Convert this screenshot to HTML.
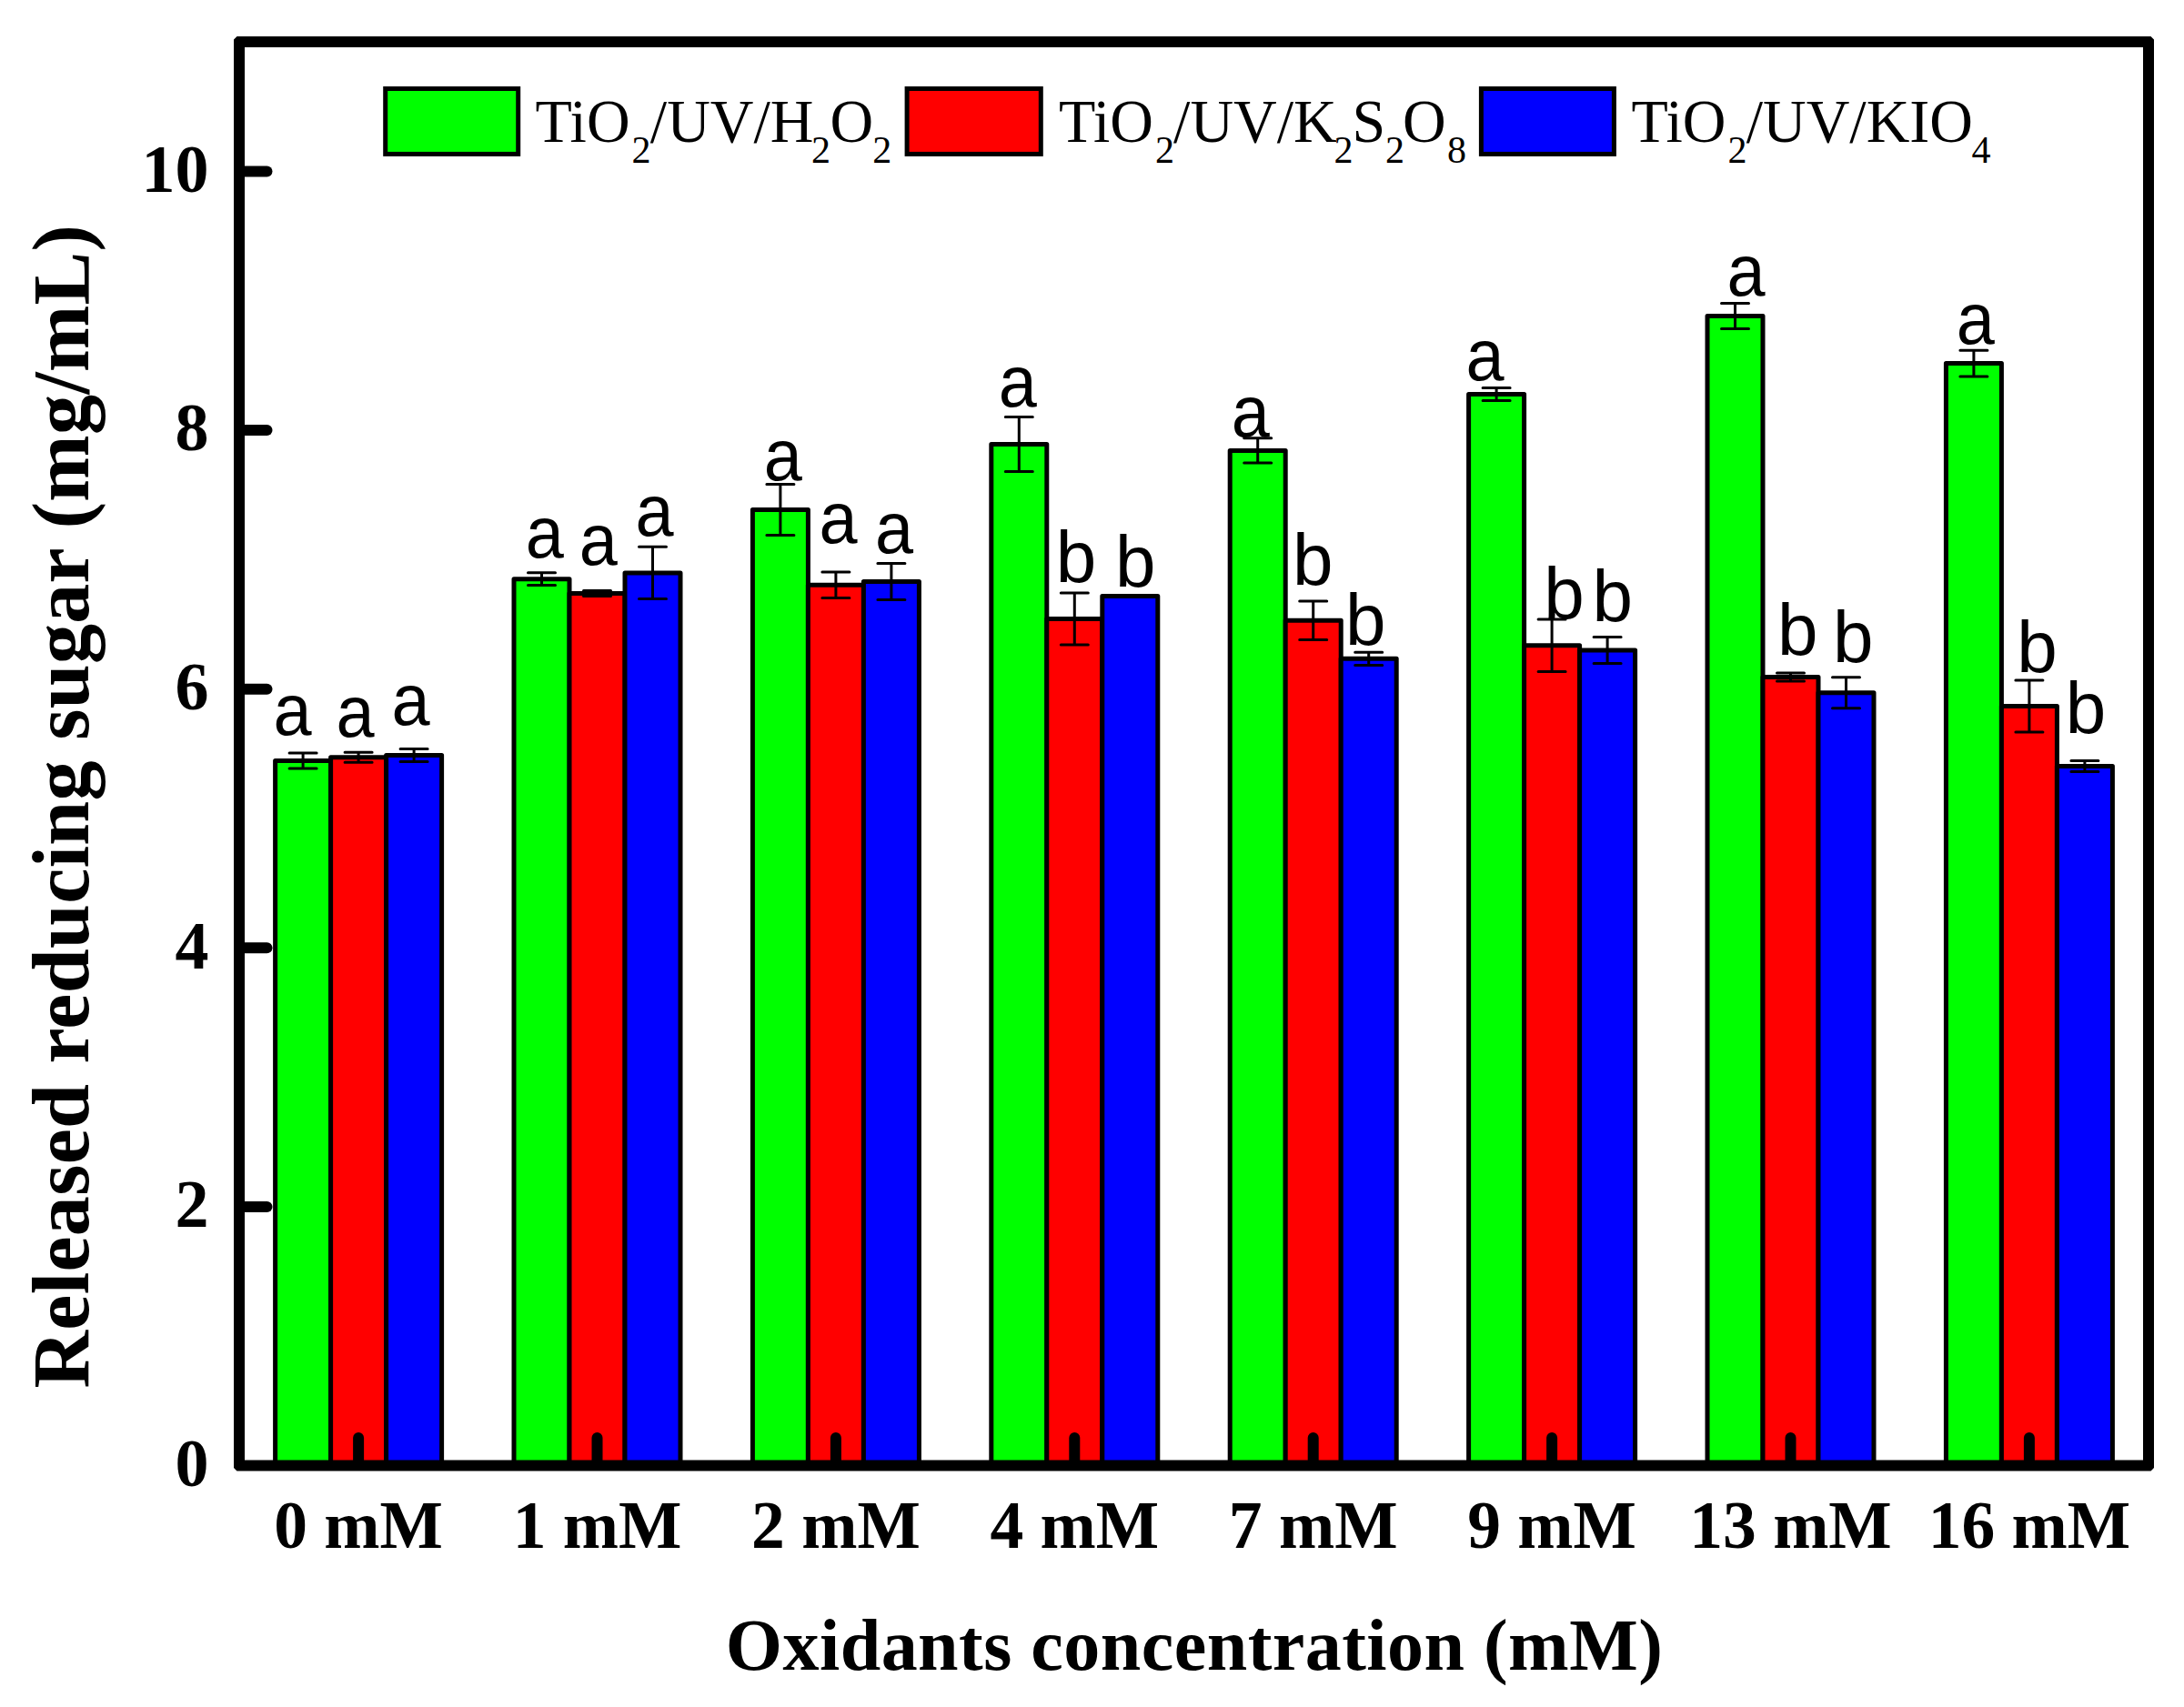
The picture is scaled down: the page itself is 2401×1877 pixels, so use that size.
<!DOCTYPE html>
<html lang="en"><head><meta charset="utf-8"><title>Released reducing sugar vs oxidants concentration</title>
<style>html,body{margin:0;padding:0;background:#fff}body{width:2401px;height:1877px;overflow:hidden}svg{display:block}.sb{font-family:"Liberation Serif","Times New Roman",serif;font-weight:bold;fill:#000}.sr{font-family:"Liberation Serif","Times New Roman",serif;fill:#000}.ss{font-family:"Liberation Sans",Arial,sans-serif;fill:#000;font-size:80px}</style></head><body>
<svg width="2401" height="1877" viewBox="0 0 2401 1877">
<rect x="0" y="0" width="2401" height="1877" fill="#fff"/>
<g stroke="#000" stroke-width="5" stroke-linejoin="round">
<rect x="302.6" y="836.5" width="61.0" height="775.0" fill="#00ff00"/>
<rect x="363.6" y="832.8" width="61.0" height="778.7" fill="#ff0000"/>
<rect x="424.6" y="830.5" width="61.0" height="781.0" fill="#0000ff"/>
<rect x="565.0" y="636.7" width="61.0" height="974.8" fill="#00ff00"/>
<rect x="626.0" y="652.6" width="61.0" height="958.9" fill="#ff0000"/>
<rect x="687.0" y="629.9" width="61.0" height="981.6" fill="#0000ff"/>
<rect x="827.4" y="560.5" width="61.0" height="1051.0" fill="#00ff00"/>
<rect x="888.4" y="643.2" width="61.0" height="968.3" fill="#ff0000"/>
<rect x="949.4" y="639.5" width="61.0" height="972.0" fill="#0000ff"/>
<rect x="1089.8" y="488.6" width="61.0" height="1122.9" fill="#00ff00"/>
<rect x="1150.8" y="680.5" width="61.0" height="931.0" fill="#ff0000"/>
<rect x="1211.8" y="655.4" width="61.0" height="956.1" fill="#0000ff"/>
<rect x="1352.2" y="495.4" width="61.0" height="1116.1" fill="#00ff00"/>
<rect x="1413.2" y="682.3" width="61.0" height="929.2" fill="#ff0000"/>
<rect x="1474.2" y="724.3" width="61.0" height="887.2" fill="#0000ff"/>
<rect x="1614.6" y="433.5" width="61.0" height="1178.0" fill="#00ff00"/>
<rect x="1675.6" y="709.8" width="61.0" height="901.7" fill="#ff0000"/>
<rect x="1736.6" y="715.0" width="61.0" height="896.5" fill="#0000ff"/>
<rect x="1877.0" y="347.6" width="61.0" height="1263.9" fill="#00ff00"/>
<rect x="1938.0" y="744.4" width="61.0" height="867.1" fill="#ff0000"/>
<rect x="1999.0" y="761.8" width="61.0" height="849.7" fill="#0000ff"/>
<rect x="2139.4" y="399.6" width="61.0" height="1211.9" fill="#00ff00"/>
<rect x="2200.4" y="776.5" width="61.0" height="835.0" fill="#ff0000"/>
<rect x="2261.4" y="842.6" width="61.0" height="768.9" fill="#0000ff"/>
</g>
<g stroke="#000" stroke-width="3" stroke-linecap="round" fill="none">
<path d="M333.1 828.0V845.0M318.1 828.0h30M318.1 845.0h30"/>
<path d="M394.1 827.3V838.3M379.1 827.3h30M379.1 838.3h30"/>
<path d="M455.1 823.6V837.4M440.1 823.6h30M440.1 837.4h30"/>
<path d="M595.5 629.8V643.6M580.5 629.8h30M580.5 643.6h30"/>
<path d="M656.5 649.6V655.6M641.5 649.6h30M641.5 655.6h30"/>
<path d="M717.5 601.2V658.6M702.5 601.2h30M702.5 658.6h30"/>
<path d="M857.9 532.6V588.4M842.9 532.6h30M842.9 588.4h30"/>
<path d="M918.9 628.9V657.5M903.9 628.9h30M903.9 657.5h30"/>
<path d="M979.9 619.5V659.5M964.9 619.5h30M964.9 659.5h30"/>
<path d="M1120.3 458.6V518.6M1105.3 458.6h30M1105.3 518.6h30"/>
<path d="M1181.3 651.9V709.1M1166.3 651.9h30M1166.3 709.1h30"/>
<path d="M1242.3 654.4V656.4M1227.3 654.4h30M1227.3 656.4h30"/>
<path d="M1382.7 481.8V509.0M1367.7 481.8h30M1367.7 509.0h30"/>
<path d="M1443.7 661.0V703.6M1428.7 661.0h30M1428.7 703.6h30"/>
<path d="M1504.7 717.2V731.4M1489.7 717.2h30M1489.7 731.4h30"/>
<path d="M1645.1 426.5V440.5M1630.1 426.5h30M1630.1 440.5h30"/>
<path d="M1706.1 681.1V738.5M1691.1 681.1h30M1691.1 738.5h30"/>
<path d="M1767.1 700.6V729.4M1752.1 700.6h30M1752.1 729.4h30"/>
<path d="M1907.5 333.6V361.6M1892.5 333.6h30M1892.5 361.6h30"/>
<path d="M1968.5 739.9V748.9M1953.5 739.9h30M1953.5 748.9h30"/>
<path d="M2029.5 744.8V778.8M2014.5 744.8h30M2014.5 778.8h30"/>
<path d="M2169.9 385.2V414.0M2154.9 385.2h30M2154.9 414.0h30"/>
<path d="M2230.9 747.9V805.1M2215.9 747.9h30M2215.9 805.1h30"/>
<path d="M2291.9 836.6V848.6M2276.9 836.6h30M2276.9 848.6h30"/>
</g>
<path fill="#000" fill-rule="evenodd" d="M260.5 40.0L2364.5 40.0L2368.0 43.5L2368.0 1614.0L2364.5 1617.5L260.5 1617.5L257.0 1614.0L257.0 43.5Z M269.0 52.0V1605.5H2356.0V52.0Z"/>
<g stroke="#000" stroke-width="12" stroke-linecap="round">
<line x1="269.0" y1="1326.9" x2="293.5" y2="1326.9"/>
<line x1="269.0" y1="1042.3" x2="293.5" y2="1042.3"/>
<line x1="269.0" y1="757.7" x2="293.5" y2="757.7"/>
<line x1="269.0" y1="473.1" x2="293.5" y2="473.1"/>
<line x1="269.0" y1="188.5" x2="293.5" y2="188.5"/>
<line x1="394.1" y1="1605.5" x2="394.1" y2="1581.0"/>
<line x1="656.5" y1="1605.5" x2="656.5" y2="1581.0"/>
<line x1="918.9" y1="1605.5" x2="918.9" y2="1581.0"/>
<line x1="1181.3" y1="1605.5" x2="1181.3" y2="1581.0"/>
<line x1="1443.7" y1="1605.5" x2="1443.7" y2="1581.0"/>
<line x1="1706.1" y1="1605.5" x2="1706.1" y2="1581.0"/>
<line x1="1968.5" y1="1605.5" x2="1968.5" y2="1581.0"/>
<line x1="2230.9" y1="1605.5" x2="2230.9" y2="1581.0"/>
</g>
<g class="sb" font-size="74" text-anchor="end">
<text x="229.5" y="1633.8">0</text>
<text x="229.5" y="1349.2">2</text>
<text x="229.5" y="1064.6">4</text>
<text x="229.5" y="780.0">6</text>
<text x="229.5" y="495.4">8</text>
<text x="229.5" y="210.8">10</text>
</g>
<g class="sb" font-size="73.5" text-anchor="middle">
<text x="394.1" y="1701.5">0 mM</text>
<text x="656.5" y="1701.5">1 mM</text>
<text x="918.9" y="1701.5">2 mM</text>
<text x="1181.3" y="1701.5">4 mM</text>
<text x="1443.7" y="1701.5">7 mM</text>
<text x="1706.1" y="1701.5">9 mM</text>
<text x="1968.5" y="1701.5">13 mM</text>
<text x="2230.9" y="1701.5">16 mM</text>
</g>
<text class="sb" font-size="80" x="797.8" y="1836" textLength="1030" lengthAdjust="spacing">Oxidants concentration (mM)</text>
<text class="sb" font-size="88" transform="translate(97.1 1526.5) rotate(-90)" textLength="1279.4" lengthAdjust="spacing">Released reducing sugar (mg/mL)</text>
<g class="ss">
<text transform="translate(300.5 808.0) scale(0.945 1)">a</text>
<text transform="translate(369.6 809.9) scale(0.945 1)">a</text>
<text transform="translate(430.4 797.0) scale(0.945 1)">a</text>
<text transform="translate(577.8 612.8) scale(0.945 1)">a</text>
<text transform="translate(636.8 621.0) scale(0.945 1)">a</text>
<text transform="translate(698.6 588.9) scale(0.945 1)">a</text>
<text transform="translate(839.7 527.7) scale(0.945 1)">a</text>
<text transform="translate(900.6 596.6) scale(0.945 1)">a</text>
<text transform="translate(961.9 607.6) scale(0.945 1)">a</text>
<text transform="translate(1097.8 447.4) scale(0.945 1)">a</text>
<text x="1160.8" y="640.0">b</text>
<text x="1226.1" y="645.1">b</text>
<text transform="translate(1353.8 479.9) scale(0.945 1)">a</text>
<text x="1420.9" y="643.0">b</text>
<text x="1479.0" y="709.3">b</text>
<text transform="translate(1611.5 417.6) scale(0.945 1)">a</text>
<text x="1697.2" y="680.3">b</text>
<text x="1750.5" y="683.1">b</text>
<text transform="translate(1898.6 324.8) scale(0.945 1)">a</text>
<text x="1954.1" y="720.3">b</text>
<text x="2015.0" y="728.1">b</text>
<text transform="translate(2150.7 378.3) scale(0.945 1)">a</text>
<text x="2217.2" y="739.3">b</text>
<text x="2270.8" y="806.3">b</text>
</g>
<g stroke="#000" stroke-width="5">
<rect x="423.7" y="97.5" width="146.0" height="71.9" fill="#00ff00"/>
<rect x="997.1" y="97.5" width="147.2" height="71.9" fill="#ff0000"/>
<rect x="1628.4" y="97.5" width="146.0" height="71.9" fill="#0000ff"/>
</g>
<g class="sr">
<text transform="translate(588.6 156.1) scale(1 1.03)" font-size="66">TiO</text>
<text transform="translate(694.6 178.6)" font-size="42">2</text>
<text transform="translate(714.8 156.1) scale(1 1.03)" font-size="66">/UV/H</text>
<text transform="translate(892.1 178.6)" font-size="42">2</text>
<text transform="translate(912.4 156.1) scale(1 1.03)" font-size="66">O</text>
<text transform="translate(959.3 178.6)" font-size="42">2</text>
<text transform="translate(1163.9 156.1) scale(1 1.03)" font-size="66">TiO</text>
<text transform="translate(1269.9 178.6)" font-size="42">2</text>
<text transform="translate(1290.1 156.1) scale(1 1.03)" font-size="66">/UV/K</text>
<text transform="translate(1466.4 178.6)" font-size="42">2</text>
<text transform="translate(1486.4 156.1) scale(1 1.03)" font-size="66">S</text>
<text transform="translate(1523.1 178.6)" font-size="42">2</text>
<text transform="translate(1542.1 156.1) scale(1 1.03)" font-size="66">O</text>
<text transform="translate(1591.1 178.6)" font-size="42">8</text>
<text transform="translate(1793.5 156.1) scale(1 1.03)" font-size="66">TiO</text>
<text transform="translate(1899.5 178.6)" font-size="42">2</text>
<text transform="translate(1919.7 156.1) scale(1 1.03)" font-size="66">/UV/KIO</text>
<text transform="translate(2167.5 178.6)" font-size="42">4</text>
</g>
</svg></body></html>
